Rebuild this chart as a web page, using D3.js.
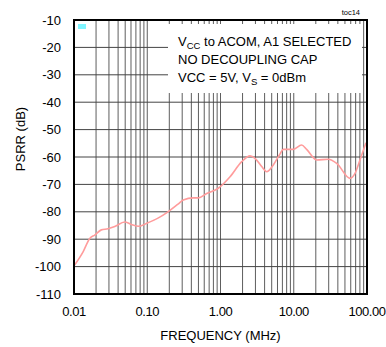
<!DOCTYPE html>
<html>
<head>
<meta charset="utf-8">
<script src="https://cdn.jsdelivr.net/npm/d3@7"></script>
<style>
  body { margin: 0; background: #fff; }
  svg text { font-family: "Liberation Sans", Arial, sans-serif; fill: #000; }
</style>
</head>
<body>
<svg id="chart" width="386" height="347"></svg>
<script>
// PSRR vs frequency
const freqMHz = [0.0102, 0.0133, 0.0164, 0.0192, 0.0236, 0.0291, 0.036, 0.0492, 0.0605, 0.0764,
  0.102, 0.14, 0.192, 0.263, 0.31, 0.425, 0.498, 0.648, 0.933, 1.35, 1.95, 2.53, 2.96, 3.65,
  4.28, 5.26, 6.49, 7.2, 9.86, 12.8, 15.0, 20.6, 29.6, 38.6, 58.6, 68.6, 80.2, 96.8];
const psrrDb = [-99.4, -94.6, -89.7, -88.5, -86.6, -86.2, -85.4, -83.7, -84.6, -85.3,
  -84.0, -82.3, -80.0, -77.2, -75.7, -74.9, -74.9, -73.3, -71.4, -67.2, -61.7, -59.6, -60.5, -63.5,
  -65.4, -62.9, -58.9, -57.2, -57.2, -55.6, -57.2, -61.1, -60.8, -62.3, -67.8, -66.0, -61.1, -54.8];

const xTicks = [0.01, 0.1, 1, 10, 100];
const xTickLabels = ["0.01", "0.10", "1.00", "10.00", "100.00"];
const yTicks = [-10, -20, -30, -40, -50, -60, -70, -80, -90, -100, -110];

const legendLines = [
  [["V", false], ["CC", true], [" to ACOM, A1 SELECTED", false]],
  [["NO DECOUPLING CAP", false]],
  [["VCC = 5V, V", false], ["S", true], [" = 0dBm", false]]
];

const svg = d3.select('#chart');
const plotL = 74, plotR = 367, plotT = 20, plotB = 294;

const x = d3.scaleLog().domain([0.01, 100]).range([plotL, plotR]);
const y = d3.scaleLinear().domain([-110, -10]).range([plotB, plotT]);

// minor + major vertical grid: 1..9 in each decade
const vGrid = [];
for (let dec = 0.01; dec < 99; dec *= 10) {
  for (let m = 1; m <= 9; m++) vGrid.push(dec * m);
}

svg.append('g')
  .selectAll('line')
  .data(vGrid.slice(1))
  .join('line')
  .attr('x1', d => x(d)).attr('x2', d => x(d))
  .attr('y1', plotT).attr('y2', plotB)
  .attr('stroke', '#5e5e5e')
  .attr('stroke-width', 1);

svg.append('g')
  .selectAll('line')
  .data(yTicks.slice(1, -1))
  .join('line')
  .attr('x1', plotL).attr('x2', plotR)
  .attr('y1', d => y(d)).attr('y2', d => y(d))
  .attr('stroke', '#444')
  .attr('stroke-width', 1);

// legend box hides the grid
svg.append('rect')
  .attr('x', 168).attr('y', 24)
  .attr('width', 194).attr('height', 69)
  .attr('fill', '#fff');

// curve
const line = d3.line()
  .x((d, i) => x(freqMHz[i]))
  .y(d => y(d))
  .curve(d3.curveMonotoneX);

svg.append('path')
  .datum(psrrDb)
  .attr('d', line)
  .attr('fill', 'none')
  .attr('stroke', '#ff9c9c')
  .attr('stroke-width', 1.6);

// frame
svg.append('rect')
  .attr('x', plotL).attr('y', plotT)
  .attr('width', plotR - plotL).attr('height', plotB - plotT)
  .attr('fill', 'none')
  .attr('stroke', '#000')
  .attr('stroke-width', 2);

// y tick labels
svg.append('g')
  .selectAll('text')
  .data(yTicks)
  .join('text')
  .attr('x', 61)
  .attr('y', d => y(d))
  .attr('dy', '0.35em')
  .attr('text-anchor', 'end')
  .attr('font-size', 13)
  .text(d => d);

// x tick labels
svg.append('g')
  .selectAll('text')
  .data(xTicks)
  .join('text')
  .attr('x', d => x(d))
  .attr('y', 316)
  .attr('text-anchor', 'middle')
  .attr('font-size', 13)
  .attr('letter-spacing', -0.5)
  .text((d, i) => xTickLabels[i]);

// axis titles
svg.append('text')
  .attr('x', (plotL + plotR) / 2)
  .attr('y', 340)
  .attr('text-anchor', 'middle')
  .attr('font-size', 13)
  .text('FREQUENCY (MHz)');

svg.append('text')
  .attr('transform', 'translate(25,139) rotate(-90)')
  .attr('text-anchor', 'middle')
  .attr('font-size', 13)
  .text('PSRR (dB)');

// legend text
legendLines.forEach((parts, i) => {
  const t = svg.append('text')
    .attr('x', 178)
    .attr('y', 46 + i * 18)
    .attr('font-size', 13);
  let shifted = false;
  parts.forEach(([s, sub]) => {
    const ts = t.append('tspan').text(s);
    if (sub) { ts.attr('font-size', 9.5).attr('dy', 3); shifted = true; }
    else if (shifted) { ts.attr('dy', -3); shifted = false; }
  });
});

svg.append('text')
  .attr('x', 360).attr('y', 15)
  .attr('text-anchor', 'end')
  .attr('font-size', 7.5)
  .text('toc14');

// small logo mark
svg.append('rect')
  .attr('x', 78).attr('y', 24)
  .attr('width', 8).attr('height', 5)
  .attr('fill', '#7ff5ff');
</script>
</body>
</html>
